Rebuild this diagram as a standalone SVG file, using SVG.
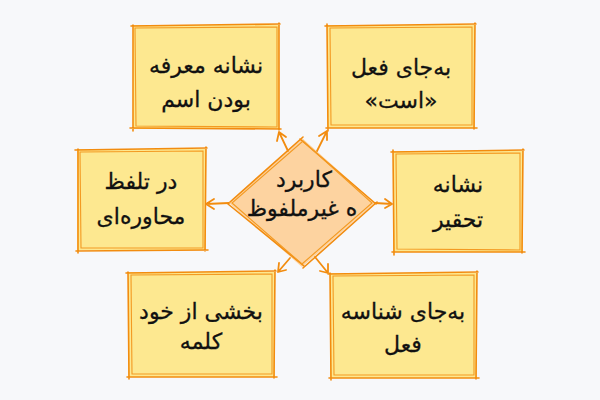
<svg xmlns="http://www.w3.org/2000/svg" width="600" height="400" viewBox="0 0 600 400">
<defs>
<style>
.box{fill:#fde890;}
.edge{fill:none;stroke:#f28c0f;stroke-width:1.6;stroke-linejoin:round;stroke-linecap:round;}
.edge2{fill:none;stroke:#f39a22;stroke-width:1.1;stroke-linecap:round;}
.dia{fill:#fdd3a0;}
.t{font-family:"DejaVu Sans","Noto Sans",sans-serif;font-size:22px;fill:#111;stroke:#111;stroke-width:0.3;text-anchor:middle;direction:rtl;}
.conn{fill:none;stroke:#f28c0f;stroke-width:1.8;stroke-linecap:round;stroke-linejoin:round;}
</style>
</defs>
<rect width="600" height="400" fill="#f7f8fa"/>
<g id="node-tl">
<rect class="box" x="133" y="25" width="146" height="104"/>
<path class="edge" d="M131 26 L280 24 M279 23 L279 130 M281 129 L130 128 M133 131 L133 25"/>
<path class="edge2" d="M135 28 L277 27 L277 127 L136 126 Z"/>
<text class="t" x="206" y="73">نشانه معرفه</text>
<text class="t" x="206" y="107">بودن اسم</text>
</g>
<g id="node-tr">
<rect class="box" x="327" y="25" width="148" height="103"/>
<path class="edge" d="M325 26 L476 24 M475 23 L474 129 M477 128 L326 128 M328 131 L327 24"/>
<path class="edge2" d="M330 28 L472 27 L472 125 L331 125 Z"/>
<text class="t" x="401" y="75">به‌جای فعل</text>
<text class="t" x="401" y="108">«است»</text>
</g>
<g id="node-ml">
<rect class="box" x="77" y="149" width="129" height="101"/>
<path class="edge" d="M75 150 L207 148 M206 147 L205 251 M208 250 L76 251 M78 253 L78 149"/>
<path class="edge2" d="M80 152 L203 151 L203 248 L81 248 Z"/>
<text class="t" x="141" y="189">در تلفظ</text>
<text class="t" x="141" y="224">محاوره‌ای</text>
</g>
<g id="node-mr">
<rect class="box" x="393" y="151" width="130" height="101"/>
<path class="edge" d="M391 152 L524 150 M523 149 L522 253 M525 252 L392 252 M394 255 L393 150"/>
<path class="edge2" d="M396 154 L520 153 L520 250 L397 249 Z"/>
<text class="t" x="458" y="192">نشانه</text>
<text class="t" x="458" y="227">تحقیر</text>
</g>
<g id="node-bl">
<rect class="box" x="128" y="272" width="147" height="105"/>
<path class="edge" d="M126 273 L276 271 M275 270 L274 378 M277 377 L127 377 M129 379 L128 272"/>
<path class="edge2" d="M131 275 L272 274 L272 374 L132 374 Z"/>
<text class="t" x="201" y="319">بخشی از خود</text>
<text class="t" x="201" y="349">کلمه</text>
</g>
<g id="node-br">
<rect class="box" x="330" y="273" width="147" height="105"/>
<path class="edge" d="M328 274 L478 272 M477 271 L476 379 M479 378 L329 378 M331 380 L330 273"/>
<path class="edge2" d="M333 276 L474 275 L474 375 L334 375 Z"/>
<text class="t" x="403" y="319">به‌جای شناسه</text>
<text class="t" x="403" y="352">فعل</text>
</g>
<g id="node-center">
<path class="dia" d="M302 138 L375 203 L302 267 L229 203 Z"/>
<path class="edge" d="M300 139 L376 204 M377 202 L303 268 M304 266 L228 204 M230 202 L303 137"/>
<path class="edge2" d="M303 141 L372 203 L302 264 L232 203 Z"/>
<text class="t" x="304" y="187">کاربرد</text>
<text class="t" x="302" y="216">ه غیرملفوظ</text>
</g>
<g id="connectors">
<path class="conn" d="M288 151 L279 132 M277 141 L279 132 L286 137"/>
<path class="conn" d="M317 151 L327 131 M319 136 L327 131 L327 140"/>
<path class="conn" d="M229 203 L206 204 M214 199 L206 204 L214 209"/>
<path class="conn" d="M375 203 L392 204 M385 199 L392 204 L385 208"/>
<path class="conn" d="M290 258 L278 272 M279 263 L278 272 L286 270"/>
<path class="conn" d="M315 257 L328 273 M320 271 L328 273 L328 264"/>
</g>
</svg>
